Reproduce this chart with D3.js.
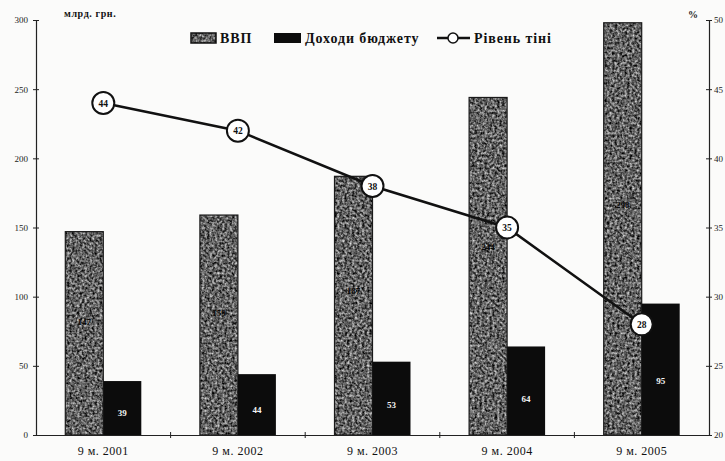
<!DOCTYPE html>
<html>
<head>
<meta charset="utf-8">
<script src="https://cdn.jsdelivr.net/npm/d3@7"></script>
<style>
body { margin: 0; background: #fbfbfa; }
svg { font-family: "Liberation Serif", "DejaVu Serif", serif; }
</style>
</head>
<body>
<script>
// data
var categories = ["9 м. 2001", "9 м. 2002", "9 м. 2003", "9 м. 2004", "9 м. 2005"]
var gdp = [147, 159, 187, 244, 298]
var budget = [39, 44, 53, 64, 95]
var shadow = [44, 42, 38, 35, 28]
var leftTicks = [0, 50, 100, 150, 200, 250, 300]
var rightTicks = [20, 25, 30, 35, 40, 45, 50]

var width = 725, height = 461
var mLeft = 36, mRight = 709, mTop = 20, mBottom = 435

var svg = d3.select("body").append("svg").attr("width", width).attr("height", height)

// grainy texture for the GDP bars
var defs = svg.append("defs")
var f = defs.append("filter").attr("id", "grain").attr("x", 0).attr("y", 0).attr("width", 1).attr("height", 1)
  .attr("color-interpolation-filters", "sRGB")
f.append("feTurbulence").attr("type", "fractalNoise").attr("baseFrequency", 0.4).attr("numOctaves", 2).attr("seed", 3).attr("result", "noise")
f.append("feColorMatrix").attr("in", "noise").attr("type", "matrix")
  .attr("values", "1.25 0 0 0 -0.24  1.25 0 0 0 -0.24  1.25 0 0 0 -0.24  0 0 0 0 1").attr("result", "g")
f.append("feComposite").attr("in", "g").attr("in2", "SourceGraphic").attr("operator", "in")

var x = d3.scaleBand().domain(categories).range([mLeft, mRight])
var yL = d3.scaleLinear().domain([0, 300]).range([mBottom, mTop])
var yR = d3.scaleLinear().domain([20, 50]).range([mBottom, mTop])
var bw = 38

// gdp bars
svg.selectAll(".gdp").data(gdp).enter().append("rect")
  .attr("x", (d, i) => x(categories[i]) + x.bandwidth() / 2 - bw)
  .attr("y", d => yL(d))
  .attr("width", bw)
  .attr("height", d => mBottom - yL(d))
  .attr("fill", "#777")
  .attr("filter", "url(#grain)")
svg.selectAll(".gdpb").data(gdp).enter().append("rect")
  .attr("x", (d, i) => x(categories[i]) + x.bandwidth() / 2 - bw)
  .attr("y", d => yL(d))
  .attr("width", bw)
  .attr("height", d => mBottom - yL(d))
  .attr("fill", "none").attr("stroke", "#1a1a1a").attr("stroke-width", 1.2)

// budget bars
svg.selectAll(".bud").data(budget).enter().append("rect")
  .attr("x", (d, i) => x(categories[i]) + x.bandwidth() / 2)
  .attr("y", d => yL(d))
  .attr("width", bw)
  .attr("height", d => mBottom - yL(d))
  .attr("fill", "#0c0c0c")

// bar labels
svg.selectAll(".gl").data(gdp).enter().append("text")
  .attr("x", (d, i) => x(categories[i]) + x.bandwidth() / 2 - bw / 2)
  .attr("y", d => yL(d * 0.56) + 4)
  .attr("text-anchor", "middle").attr("font-size", 9).attr("font-weight", "bold").attr("fill", "#0a0a0a")
  .text(d => d)
svg.selectAll(".bl").data(budget).enter().append("text")
  .attr("x", (d, i) => x(categories[i]) + x.bandwidth() / 2 + bw / 2)
  .attr("y", d => yL(d * 0.42) + 4)
  .attr("text-anchor", "middle").attr("font-size", 9).attr("font-weight", "bold").attr("fill", "#f4f4f4")
  .text(d => d)

// axes
var axL = d3.axisLeft(yL).tickValues(leftTicks).tickSize(0).tickPadding(8)
var gL = svg.append("g").attr("transform", "translate(" + mLeft + ",0)").call(axL)
gL.select(".domain").attr("stroke", "#222").attr("stroke-width", 1.2)
gL.selectAll(".tick line").attr("x1", -3).attr("x2", 3).attr("stroke", "#222")
gL.selectAll("text").attr("font-size", 9).attr("fill", "#222").attr("font-family", "Liberation Serif")

var axR = d3.axisRight(yR).tickValues(rightTicks).tickSize(0).tickPadding(5)
var gR = svg.append("g").attr("transform", "translate(" + mRight + ",0)").call(axR)
gR.select(".domain").attr("stroke", "#222").attr("stroke-width", 1.2)
gR.selectAll(".tick line").attr("x1", -3).attr("x2", 3).attr("stroke", "#222")
gR.selectAll("text").attr("font-size", 9).attr("fill", "#222").attr("font-family", "Liberation Serif")

var axB = d3.axisBottom(x).tickSize(0).tickPadding(11)
var gB = svg.append("g").attr("transform", "translate(0," + mBottom + ")").call(axB)
gB.select(".domain").attr("stroke", "#222").attr("stroke-width", 1.2)
gB.selectAll("text").attr("font-size", 12).attr("letter-spacing", 0.5)
  .attr("fill", "#111").attr("font-family", "Liberation Serif")
svg.selectAll(".ct").data(categories.slice(1)).enter().append("line")
  .attr("x1", d => x(d)).attr("x2", d => x(d))
  .attr("y1", mBottom - 3).attr("y2", mBottom + 3).attr("stroke", "#222")

// shadow economy line
var line = d3.line().x((d, i) => x(categories[i]) + x.bandwidth() / 2).y(d => yR(d))
svg.append("path").datum(shadow).attr("d", line)
  .attr("fill", "none").attr("stroke", "#111").attr("stroke-width", 2.5)
var pts = svg.selectAll(".pt").data(shadow).enter().append("g")
  .attr("transform", (d, i) => "translate(" + (x(categories[i]) + x.bandwidth() / 2) + "," + yR(d) + ")")
pts.append("circle").attr("r", 11).attr("fill", "#fff").attr("stroke", "#111").attr("stroke-width", 2)
pts.append("text").attr("text-anchor", "middle").attr("dy", 3.5)
  .attr("font-size", 9.5).attr("font-weight", "bold").attr("fill", "#111").text(d => d)

// unit labels
svg.append("text").attr("x", 64).attr("y", 17).attr("font-size", 10).attr("font-weight", "bold")
  .attr("letter-spacing", 0.6).attr("fill", "#111").text("млрд. грн.")
svg.append("text").attr("x", 688).attr("y", 18).attr("font-size", 10).attr("font-weight", "bold")
  .attr("fill", "#222").text("%")

// legend
var lg = svg.append("g").attr("font-size", 14).attr("font-weight", "bold").attr("letter-spacing", 0.9).attr("fill", "#111")
lg.append("rect").attr("x", 191).attr("y", 33).attr("width", 25).attr("height", 10)
  .attr("fill", "#777").attr("filter", "url(#grain)")
lg.append("rect").attr("x", 191).attr("y", 33).attr("width", 25).attr("height", 10)
  .attr("fill", "none").attr("stroke", "#111").attr("stroke-width", 1.5)
lg.append("text").attr("x", 220).attr("y", 43).text("ВВП")
lg.append("rect").attr("x", 274).attr("y", 33).attr("width", 27).attr("height", 10).attr("fill", "#0c0c0c")
lg.append("text").attr("x", 305).attr("y", 43).text("Доходи бюджету")
lg.append("line").attr("x1", 437).attr("x2", 470).attr("y1", 38).attr("y2", 38)
  .attr("stroke", "#111").attr("stroke-width", 2.5)
lg.append("circle").attr("cx", 453).attr("cy", 38).attr("r", 5).attr("fill", "#fff")
  .attr("stroke", "#111").attr("stroke-width", 1.5)
lg.append("text").attr("x", 474).attr("y", 43).text("Рівень тіні")
</script>
</body>
</html>
